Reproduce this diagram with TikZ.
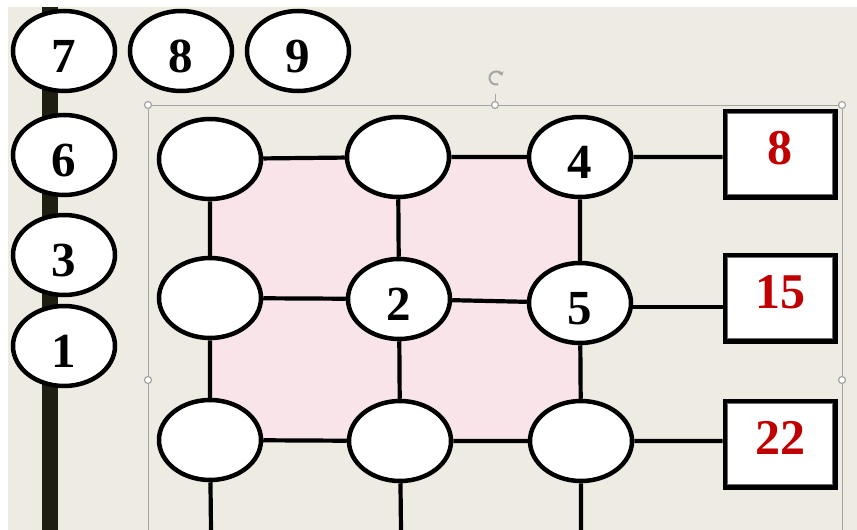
\documentclass[tikz,border=0pt]{standalone}
\usepackage{fontspec}
\setmainfont{Liberation Serif}
\usetikzlibrary{shapes.geometric,arrows.meta}
\definecolor{beige}{RGB}{238,235,227}
\definecolor{pinkf}{RGB}{249,229,233}
\definecolor{barc}{RGB}{30,30,18}
\definecolor{redt}{RGB}{192,0,0}
\definecolor{selg}{RGB}{165,165,165}
\definecolor{innerg}{RGB}{110,110,110}
\pgfdeclarelayer{bg}
\pgfdeclarelayer{lines}
\pgfsetlayers{bg,lines,main}
\begin{document}
\begin{tikzpicture}[x=1pt,y=-1pt,
 ell/.style={ellipse,draw=black,line width=4.5pt,fill=white,minimum width=102pt,minimum height=80pt,inner sep=0pt,font=\fontsize{49}{49}\selectfont\bfseries,text height=42pt,text depth=0pt},
 numbox/.style={rectangle,draw=black,line width=5pt,fill=white,minimum width=110pt,minimum height=86pt,inner sep=0pt,font=\fontsize{50}{50}\selectfont\bfseries,text=redt,text height=34pt,text depth=14pt},
 innerline/.style={draw=innerg,line width=1.5pt},
 conn/.style={line width=4.2pt},
 handle/.style={circle,draw=selg,fill=white,line width=1.2pt,minimum size=7pt,inner sep=0pt},
 selframe/.style={draw=selg,line width=1pt},
]
\useasboundingbox (0,0) rectangle (857,530);
% left column and top row of numbered ellipses
\node[ell] (n7) at (64,51) {7};
\node[ell] (n8) at (181,51) {8};
\node[ell] (n9) at (298,51) {9};
\node[ell] (n6) at (64,155) {6};
\node[ell] (n3) at (64,255) {3};
\node[ell] (n1) at (64,346) {1};
% grid
\node[ell] (a11) at (210,159) {};
\node[ell] (a12) at (398,157) {};
\node[ell] (a13) at (580,157) {4};
\node[ell] (a21) at (210,298) {};
\node[ell] (a22) at (399,299) {2};
\node[ell] (a23) at (580,303) {5};
\node[ell] (a31) at (210,440) {};
\node[ell] (a32) at (400,441) {};
\node[ell] (a33) at (581,441) {};
\coordinate (e1) at (211,530);
\coordinate (e2) at (401,530);
\coordinate (e3) at (581,530);
% boxes
\node[numbox] (b8) at (780,154) {8};
\node[numbox] (b15) at (780,298) {15};
\node[numbox] (b22) at (780,444) {22};
\draw[innerline] ([xshift=5pt,yshift=-5pt]b8.north west) rectangle ([xshift=-5pt,yshift=5pt]b8.south east);
\draw[innerline] ([xshift=5pt,yshift=-5pt]b15.north west) rectangle ([xshift=-5pt,yshift=5pt]b15.south east);
\draw[innerline] ([xshift=5pt,yshift=-5pt]b22.north west) rectangle ([xshift=-5pt,yshift=5pt]b22.south east);
% selection handles
\node[handle] (h1) at (148,105) {};
\node[handle] (h2) at (495,105) {};
\node[handle] (h3) at (842,105) {};
\node[handle] (h4) at (148,380) {};
\node[handle] (h5) at (842,380) {};
\coordinate (rot) at (496,78);
\begin{pgfonlayer}{bg}
  \fill[white] (0,0) rectangle (857,530);
  \fill[beige] (8,7) rectangle (857,530);
  \fill[barc] (42,7) rectangle (58,530);
  \fill[pinkf] (a11.center) rectangle (a33.center);
  \draw[selframe] (148,530) -- (h4) -- (h1) -- (h2) -- (h3) -- (h5) -- (842,530);
  \draw[selframe] (h2) -- ([yshift=7pt]h2.north);
  \draw[selg,line width=2pt,-{Stealth[length=4pt,width=6pt]}] (rot) ++(70:6.5) arc (70:340:6.5);
\end{pgfonlayer}
\begin{pgfonlayer}{lines}
  \draw[conn] (a11) -- (a12) -- (a13) -- (a13 -| b8.west);
  \draw[conn] (a21) -- (a22) -- (a23);
  \draw[conn] ([yshift=-4pt]a23.center) -- ([yshift=-4pt]a23.center -| b15.west);
  \draw[conn] (a31) -- (a32) -- (a33) -- (a33 -| b22.west);
  \draw[conn] (a11) -- (a21) -- (a31) -- (e1);
  \draw[conn] (a12) -- (a22) -- (a32) -- (e2);
  \draw[conn] (a13) -- (a23) -- (a33) -- (e3);
\end{pgfonlayer}
\end{tikzpicture}
\end{document}
